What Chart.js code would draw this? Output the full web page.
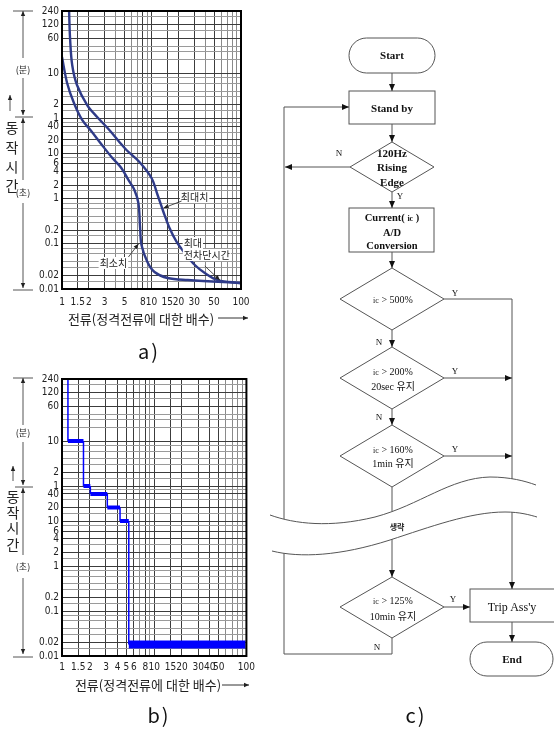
<!DOCTYPE html>
<html><head><meta charset="utf-8">
<script src="https://cdn.jsdelivr.net/npm/chart.js@4.4.0/dist/chart.umd.min.js"></script>
<style>
html,body{margin:0;padding:0;background:#fff;}
body{width:554px;height:729px;position:relative;overflow:hidden;}
canvas{position:absolute;}
#ca{left:0;top:0;}
#cb{left:0;top:370px;}
#ov{position:absolute;left:0;top:0;pointer-events:none;}
.kr{font-family:'Noto Sans CJK KR',sans-serif;}
.sf{font-family:'Liberation Serif','Times New Roman',serif;}
</style></head><body>
<canvas id="ca" width="260" height="312"></canvas>
<canvas id="cb" width="260" height="312"></canvas>
<svg id="ov" width="554" height="729" viewBox="0 0 554 729" xmlns="http://www.w3.org/2000/svg">
<defs>
<marker id="ah" viewBox="0 0 8 8" markerWidth="7" markerHeight="7" refX="8" refY="4" orient="auto" markerUnits="userSpaceOnUse"><path d="M0,0.6 L8,4 L0,7.4 z" fill="#111"/></marker>
<marker id="ah2" viewBox="0 0 8 8" markerWidth="5" markerHeight="6" refX="8" refY="4" orient="auto" markerUnits="userSpaceOnUse"><path d="M0,0.5 L8,4 L0,7.5 z" fill="#222"/></marker>
</defs>
<!-- side annotations a -->
<g stroke="#555" stroke-width="1" fill="none">
<line x1="13" y1="11" x2="33" y2="11"/>
<line x1="23" y1="58" x2="23" y2="11" marker-end="url(#ah2)"/>
<line x1="23" y1="78" x2="23" y2="115" marker-end="url(#ah2)"/>
<line x1="15" y1="117" x2="33" y2="117"/>
<line x1="23" y1="180" x2="23" y2="118" marker-end="url(#ah2)"/>
<line x1="23" y1="203" x2="23" y2="288" marker-end="url(#ah2)"/>
<line x1="13" y1="290" x2="33" y2="290"/>
<line x1="10" y1="111" x2="10" y2="95" marker-end="url(#ah2)"/>
</g>
<g class="kr" fill="#222" text-anchor="middle">
<text x="23" y="73" font-size="9">(분)</text>
<text x="23" y="196" font-size="9">(초)</text>
<text x="12" y="133" font-size="14">동</text>
<text x="12" y="153" font-size="14">작</text>
<text x="12" y="172" font-size="14">시</text>
<text x="12" y="191" font-size="14">간</text>
</g>
<!-- side annotations b -->
<g stroke="#555" stroke-width="1" fill="none">
<line x1="13" y1="378" x2="33" y2="378"/>
<line x1="23" y1="425" x2="23" y2="378" marker-end="url(#ah2)"/>
<line x1="23" y1="442" x2="23" y2="485" marker-end="url(#ah2)"/>
<line x1="15" y1="487" x2="33" y2="487"/>
<line x1="23" y1="555" x2="23" y2="488" marker-end="url(#ah2)"/>
<line x1="23" y1="578" x2="23" y2="654" marker-end="url(#ah2)"/>
<line x1="13" y1="657" x2="33" y2="657"/>
<line x1="13" y1="481" x2="13" y2="466" marker-end="url(#ah2)"/>
</g>
<g class="kr" fill="#222" text-anchor="middle">
<text x="23" y="436" font-size="9">(분)</text>
<text x="23" y="570" font-size="9">(초)</text>
<text x="13" y="502" font-size="14">동</text>
<text x="13" y="518" font-size="14">작</text>
<text x="13" y="533" font-size="14">시</text>
<text x="13" y="550" font-size="14">간</text>
</g>
<!-- axis titles -->
<g class="kr" fill="#222" font-size="13" text-anchor="middle">
<text x="141" y="324">전류(정격전류에 대한 배수)</text>
<text x="148" y="690">전류(정격전류에 대한 배수)</text>
</g>
<g stroke="#333" stroke-width="1">
<line x1="218" y1="318" x2="248" y2="318" marker-end="url(#ah2)"/>
<line x1="222" y1="685" x2="249" y2="685" marker-end="url(#ah2)"/>
</g>
<g class="kr" fill="#111" font-size="20" text-anchor="middle" letter-spacing="2">
<text x="149" y="359">a)</text>
<text x="159" y="723">b)</text>
<text x="416" y="723">c)</text>
</g>
<!-- flowchart c -->
<g stroke="#555" stroke-width="1" fill="none">
<rect x="349" y="38" width="86" height="35" rx="17.5"/>
<rect x="349" y="91" width="86" height="33"/>
<polygon points="392,142 434,167 392,192 350,167"/>
<rect x="349" y="208" width="85" height="44"/>
<polygon points="392,268 444,299 392,330 340,299"/>
<polygon points="392,347 444,378 392,409 340,378"/>
<polygon points="392,425 444,456 392,487 340,456"/>
<polygon points="392,577 444,607 392,638 340,607"/>
<rect x="470" y="589" width="90" height="33"/>
<rect x="470" y="642" width="83" height="34" rx="17"/>
<line x1="392" y1="73" x2="392" y2="91" marker-end="url(#ah)"/>
<line x1="392" y1="124" x2="392" y2="142" marker-end="url(#ah)"/>
<line x1="392" y1="192" x2="392" y2="208" marker-end="url(#ah)"/>
<line x1="392" y1="252" x2="392" y2="268" marker-end="url(#ah)"/>
<line x1="392" y1="330" x2="392" y2="347" marker-end="url(#ah)"/>
<line x1="392" y1="409" x2="392" y2="425" marker-end="url(#ah)"/>
<line x1="392" y1="487" x2="392" y2="577" marker-end="url(#ah)"/>
<polyline points="444,299 512,299 512,589" marker-end="url(#ah)"/>
<line x1="444" y1="378" x2="512" y2="378" marker-end="url(#ah)"/>
<line x1="444" y1="456" x2="512" y2="456" marker-end="url(#ah)"/>
<line x1="444" y1="607" x2="470" y2="607" marker-end="url(#ah)"/>
<line x1="512" y1="622" x2="512" y2="642" marker-end="url(#ah)"/>
<polyline points="392,638 392,654 284,654 284,107 349,107" marker-end="url(#ah)"/>
<line x1="350" y1="167" x2="285" y2="167" marker-end="url(#ah)"/>
</g>
<!-- break wave -->
<path d="M270,515 C295,524 330,528 375,517 C420,505 450,478 490,477 C510,477 525,481 536,485 L537,517 C530,515 520,512 505,512 C470,512 430,527 390,540 C340,556 300,558 272,551 Z" fill="#fff" stroke="none"/>
<g stroke="#555" stroke-width="1" fill="none">
<path d="M270,515 C295,524 330,528 375,517 C420,505 450,478 490,477 C510,477 525,481 536,485"/>
<path d="M272,551 C300,558 340,556 390,540 C430,527 470,512 505,512 C520,512 530,515 537,517"/>
</g>
<text x="397" y="530" class="kr" font-size="8" font-weight="bold" text-anchor="middle" fill="#222">생략</text>
<g class="sf" fill="#111" text-anchor="middle">
<text x="392" y="59" font-size="11" font-weight="bold">Start</text>
<text x="392" y="112" font-size="11" font-weight="bold">Stand by</text>
<text x="392" y="157" font-size="11" font-weight="bold">120Hz</text>
<text x="392" y="171" font-size="11" font-weight="bold">Rising</text>
<text x="392" y="186" font-size="11" font-weight="bold">Edge</text>
<text x="392" y="221" font-size="10.5" font-weight="bold">Current( <tspan font-size="8">ic</tspan> )</text>
<text x="392" y="236" font-size="10.5" font-weight="bold">A/D</text>
<text x="392" y="249" font-size="10.5" font-weight="bold">Conversion</text>
<text x="393" y="303" font-size="10"><tspan font-size="8">ic</tspan>  &gt; 500%</text>
<text x="393" y="375" font-size="10"><tspan font-size="8">ic</tspan>  &gt; 200%</text>
<text x="393" y="390" font-size="10">20sec <tspan class="kr">유지</tspan></text>
<text x="393" y="453" font-size="10"><tspan font-size="8">ic</tspan>  &gt; 160%</text>
<text x="393" y="467" font-size="10">1min <tspan class="kr">유지</tspan></text>
<text x="393" y="604" font-size="10"><tspan font-size="8">ic</tspan>  &gt; 125%</text>
<text x="393" y="620" font-size="10">10min <tspan class="kr">유지</tspan></text>
<text x="512" y="611" font-size="12">Trip Ass'y</text>
<text x="512" y="663" font-size="11" font-weight="bold">End</text>
<g font-size="9">
<text x="339" y="156">N</text>
<text x="400" y="199">Y</text>
<text x="455" y="296">Y</text>
<text x="379" y="345">N</text>
<text x="455" y="374">Y</text>
<text x="379" y="420">N</text>
<text x="455" y="452">Y</text>
<text x="453" y="602">Y</text>
<text x="377" y="650">N</text>
</g>
</g>
</svg>
<script>
// ---- axis ticks ----
const xGridValues = [1,1.5,2,3,4,5,6,7,8,9,10,15,20,30,40,50,60,70,80,90,100];
const xLabelValuesA = [1,1.5,2,3,5,8,10,15,20,30,50,100];
const xLabelValuesB = [1,1.5,2,3,4,5,6,8,10,15,20,30,40,50,100];
// time in seconds (upper part of axis is labelled in minutes)
const yLabelSeconds = [14400,7200,3600,600,120,60,40,20,10,6,4,2,1,0.2,0.1,0.02,0.01];
const yLabelTexts   = ['240','120','60','10','2','1','40','20','10','6','4','2','1','0.2','0.1','0.02','0.01'];
const yGridSeconds = [14400,10800,7200,5400,3600,2400,1800,1200,600,480,360,240,180,120,90,60,50,40,30,20,15,10,8,6,4,3,2,1.5,1,0.8,0.6,0.4,0.3,0.2,0.15,0.1,0.08,0.06,0.04,0.03,0.02,0.015,0.01];

// ---- chart a: max / min operating curves (multiple of rated current, seconds) ----
const maxCurrent = [1.20,1.23,1.30,1.47,1.91,2.47,3.38,4.37,5.25,7.33,10,11.7,13.6,15.9,19.1,23.5,30.5,39.4,55,97.8,100];
const maxTime    = [14400,3637,917,330,119,64.6,33.3,18.1,12.0,6.51,2.88,1.21,0.508,0.224,0.110,0.0627,0.0340,0.0226,0.0158,0.0136,0.0136];
const minCurrent = [1,1.14,1.36,1.68,2.12,2.74,3.65,4.60,5.52,6.44,7.14,7.46,7.73,9.0,10.8,15.1,25.4,97.8,100];
const minTime    = [1380,366,132,55.5,31.6,16.3,7.98,4.80,2.60,1.56,0.80,0.224,0.0945,0.0396,0.0238,0.0175,0.0158,0.0136,0.0136];

// ---- chart b: stepped trip curve corners ----
const stepCurrent = [1.16,1.16,1.71,1.71,2.03,2.03,3.1,3.1,4.26,4.26,5.3,5.3,98];
const stepTime    = [14400,600,600,60,60,40,40,20,20,10,10,0.018,0.018];

const TICK_FONT = {family:"'Liberation Sans Narrow','DejaVu Sans Condensed','Liberation Sans',Arial,sans-serif", size:10};
const near = (a,b) => Math.abs(a-b)/b < 1e-6;
const lab = (vals, texts, v) => { const i = vals.findIndex(t => near(v,t)); return i < 0 ? '' : texts[i]; };

const frame = {
  id:'frame',
  afterDraw(chart){
    const {ctx, chartArea:a} = chart;
    ctx.save(); ctx.strokeStyle='#000'; ctx.lineWidth=2;
    ctx.strokeRect(a.left, a.top, a.right-a.left, a.bottom-a.top);
    ctx.restore();
  }
};

function scales(xLabelVals, xH, xPad){
  return {
    x:{type:'logarithmic',min:1,max:100,
      afterBuildTicks:s=>{s.ticks = xGridValues.map(v=>({value:v}));},
      afterFit:s=>{s.height = xH;},
      ticks:{autoSkip:false,maxRotation:0,padding:xPad,font:TICK_FONT,color:'#222',
        callback:v=>lab(xLabelVals, xLabelVals.map(String), v)},
      grid:{drawTicks:false,lineWidth:1,
        color:c=>(c.tick && xLabelVals.some(t=>near(c.tick.value,t))) ? '#3c3c3c' : '#8a8a8a'},
      border:{display:false}},
    y:{type:'logarithmic',min:0.01,max:14400,
      afterBuildTicks:s=>{s.ticks = yGridSeconds.map(v=>({value:v}));},
      afterFit:s=>{s.width = 62;},
      ticks:{autoSkip:false,padding:3,font:TICK_FONT,color:'#222',
        callback:v=>lab(yLabelSeconds, yLabelTexts, v)},
      grid:{drawTicks:false,lineWidth:1,
        color:c=>(c.tick && yLabelSeconds.some(t=>near(c.tick.value,t))) ? '#3c3c3c' : '#9a9a9a'},
      border:{display:false}}
  };
}

function arrowTo(ctx, x1,y1,x2,y2){
  ctx.beginPath(); ctx.moveTo(x1,y1); ctx.lineTo(x2,y2); ctx.stroke();
  const ang = Math.atan2(y2-y1,x2-x1), L=5, W=2.2;
  ctx.beginPath();
  ctx.moveTo(x2,y2);
  ctx.lineTo(x2-L*Math.cos(ang)+W*Math.sin(ang), y2-L*Math.sin(ang)-W*Math.cos(ang));
  ctx.lineTo(x2-L*Math.cos(ang)-W*Math.sin(ang), y2-L*Math.sin(ang)+W*Math.cos(ang));
  ctx.closePath(); ctx.fill();
}
function labelBox(ctx, text, x, y){
  const w = ctx.measureText(text).width;
  ctx.fillStyle='#fff'; ctx.fillRect(x-w/2-1, y-6, w+2, 12);
  ctx.fillStyle='#222'; ctx.fillText(text, x, y);
}
const notes = {
  id:'notes',
  afterDatasetsDraw(chart){
    const {ctx, scales:{x,y}} = chart;
    ctx.save();
    ctx.font = "10px 'Noto Sans CJK KR', sans-serif";
    ctx.textAlign='center'; ctx.textBaseline='middle';
    ctx.strokeStyle='#222'; ctx.fillStyle='#222'; ctx.lineWidth=0.8;
    // 최대치
    let px = x.getPixelForValue(13.3), py = y.getPixelForValue(0.622);
    labelBox(ctx,'최대치', px+32, py-11);
    ctx.fillStyle='#222'; arrowTo(ctx, px+19, py-7, px+1, py);
    // 최소치
    px = x.getPixelForValue(7.33); py = y.getPixelForValue(0.1045);
    labelBox(ctx,'최소치', px-26, py+20);
    ctx.fillStyle='#222'; arrowTo(ctx, px-11, py+14, px-1, py+1);
    // 최대 전차단시간
    px = x.getPixelForValue(58); py = y.getPixelForValue(0.0158);
    labelBox(ctx,'최대', px-27, py-37);
    labelBox(ctx,'전차단시간', px-13, py-25);
    ctx.fillStyle='#222'; arrowTo(ctx, px-15, py-14, px, py);
    ctx.restore();
  }
};

new Chart(document.getElementById('ca'), {
  type:'line',
  data:{datasets:[
    {data:maxCurrent.map((c,i)=>({x:c,y:maxTime[i]})), borderColor:'#2f3b88', borderWidth:2.4, pointRadius:0, tension:0.35, fill:false},
    {data:minCurrent.map((c,i)=>({x:c,y:minTime[i]})), borderColor:'#2f3b88', borderWidth:2.4, pointRadius:0, tension:0.35, fill:false}
  ]},
  options:{responsive:false,animation:false,
    layout:{padding:{top:11,right:19,left:0,bottom:0}},
    plugins:{legend:{display:false},tooltip:{enabled:false}},
    scales:scales(xLabelValuesA, 23, 7)},
  plugins:[notes, frame]
});

new Chart(document.getElementById('cb'), {
  type:'line',
  data:{datasets:[
    {data:stepCurrent.map((c,i)=>({x:c,y:stepTime[i]})), borderColor:'#0000ff', borderWidth:1.5, pointRadius:0, tension:0, fill:false,
     borderCapStyle:'butt', borderJoinStyle:'miter',
     segment:{borderWidth:c => c.p0.parsed.y === c.p1.parsed.y ? (c.p0.parsed.y < 0.05 ? 8 : 4) : 1.5}}
  ]},
  options:{responsive:false,animation:false,
    layout:{padding:{top:8,right:13,left:0,bottom:0}},
    plugins:{legend:{display:false},tooltip:{enabled:false}},
    scales:scales(xLabelValuesB, 26, 5)},
  plugins:[frame]
});
</script>
</body></html>
